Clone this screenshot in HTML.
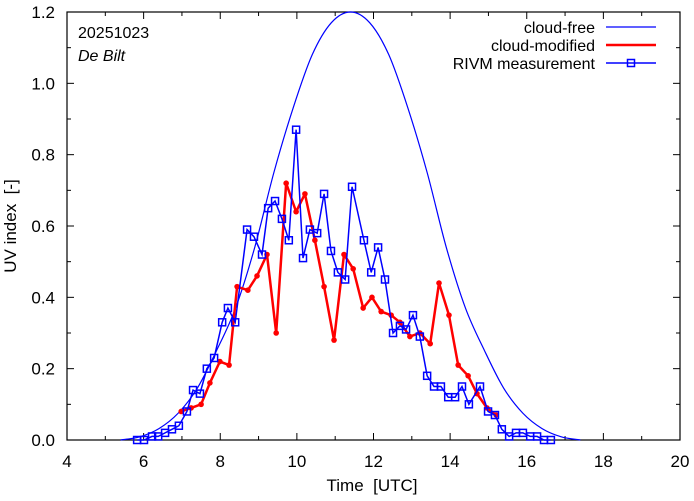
<!DOCTYPE html>
<html><head><meta charset="utf-8"><style>
body{margin:0;background:#fff}
svg{display:block;font-family:"Liberation Sans",sans-serif}
</style></head><body>
<svg id="chart" width="694" height="501" viewBox="0 0 694 501" xmlns="http://www.w3.org/2000/svg">
<rect width="694" height="501" fill="#fff"/>
<g id="axes"></g>
<g id="series"></g>
<text x="78" y="38" font-size="16">20251023</text>
<text x="78" y="61" font-size="16" font-style="italic">De Bilt</text>
<text x="372" y="491" font-size="17" text-anchor="middle" xml:space="preserve">Time  [UTC]</text>
<text transform="translate(16,226) rotate(-90)" font-size="17" text-anchor="middle" xml:space="preserve">UV index  [-]</text>
<g>
<text x="595" y="33" font-size="16" text-anchor="end">cloud-free</text>
<line x1="606" y1="27" x2="656" y2="27" stroke="#0000ff" stroke-width="1.2"/>
<text x="595" y="51" font-size="16" text-anchor="end">cloud-modified</text>
<line x1="606" y1="45" x2="656" y2="45" stroke="#ff0000" stroke-width="2.5"/>
<text x="595" y="69" font-size="16" text-anchor="end">RIVM measurement</text>
<line x1="606" y1="63" x2="656" y2="63" stroke="#0000ff" stroke-width="1.5"/>
<rect x="627.5" y="59.5" width="7" height="7" fill="none" stroke="#0000ff" stroke-width="1.5"/>
</g>
</svg>
<script>
const clearTimes=[5.4,5.9,6.4,6.9,7.4,7.9,8.4,8.9,9.4,9.9,10.4,10.9,11.4,11.9,12.4,12.9,13.4,13.9,14.4,14.9,15.4,15.9,16.4,16.9,17.4];
const clearValues=[0,0.009,0.032,0.075,0.145,0.25,0.37,0.54,0.75,0.93,1.08,1.17,1.2,1.17,1.08,0.93,0.75,0.54,0.37,0.25,0.145,0.075,0.032,0.009,0];
const cloudTimes=[6.98,7.24,7.50,7.73,7.99,8.23,8.44,8.72,8.96,9.22,9.46,9.72,9.98,10.21,10.47,10.71,10.97,11.23,11.47,11.73,11.96,12.20,12.46,12.69,12.95,13.21,13.48,13.71,13.97,14.21,14.47,14.70,14.96,15.20];
const cloudValues=[0.08,0.09,0.10,0.16,0.22,0.21,0.43,0.42,0.46,0.52,0.30,0.72,0.64,0.69,0.56,0.43,0.28,0.52,0.48,0.37,0.40,0.36,0.35,0.33,0.29,0.30,0.27,0.44,0.35,0.21,0.18,0.13,0.09,0.07];
const measTimes=[5.83,6.01,6.22,6.38,6.56,6.74,6.92,7.13,7.29,7.47,7.65,7.84,8.05,8.20,8.39,8.70,8.88,9.09,9.25,9.43,9.61,9.79,9.98,10.16,10.34,10.53,10.71,10.89,11.07,11.26,11.44,11.75,11.94,12.12,12.30,12.51,12.69,12.85,13.03,13.21,13.40,13.58,13.76,13.95,14.13,14.31,14.49,14.78,14.99,15.17,15.35,15.54,15.72,15.90,16.09,16.27,16.45,16.63];
const measValues=[0,0,0.01,0.01,0.02,0.03,0.04,0.08,0.14,0.13,0.20,0.23,0.33,0.37,0.33,0.59,0.57,0.52,0.65,0.67,0.62,0.56,0.87,0.51,0.59,0.58,0.69,0.53,0.47,0.45,0.71,0.56,0.47,0.54,0.45,0.30,0.32,0.31,0.35,0.29,0.18,0.15,0.15,0.12,0.12,0.15,0.10,0.15,0.08,0.07,0.03,0.01,0.02,0.02,0.01,0.01,0,0];
const xTickLabels=[4,6,8,10,12,14,16,18,20];
const yTickLabels=["0.0","0.2","0.4","0.6","0.8","1.0","1.2"];

const L=67,R=680,T=12,B=440;
const X=t=>L+(t-4)/16*(R-L);
const Y=v=>B-v/1.2*(B-T);
const NS="http://www.w3.org/2000/svg";
const axes=document.getElementById('axes'),series=document.getElementById('series');
function mk(tag,attrs,parent){const e=document.createElementNS(NS,tag);for(const k in attrs)e.setAttribute(k,attrs[k]);parent.appendChild(e);return e;}

for(let h=4;h<=20;h++){
  const x=X(h),len=(h%2===0)?7:4;
  const t1=mk('line',{x1:x,y1:B,x2:x,y2:B-len,stroke:'#000'},axes);
  
  
  const t2=mk('line',{x1:x,y1:T,x2:x,y2:T+len,stroke:'#000'},axes);
  
  
}
xTickLabels.forEach(v=>{
  const tx=mk('text',{x:X(v),y:B+27,'font-size':17,'text-anchor':'middle'},axes);
  tx.textContent=v;
  
  
});
for(let i=0;i<=12;i++){
  const y=Y(i/10),len=(i%2===0)?7:4;
  const t1=mk('line',{x1:L,y1:y,x2:L+len,y2:y,stroke:'#000'},axes);
  
  
  const t2=mk('line',{x1:R,y1:y,x2:R-len,y2:y,stroke:'#000'},axes);
  
  
}
yTickLabels.forEach(s=>{
  const tx=mk('text',{x:L-12,y:Y(parseFloat(s))+6,'font-size':17,'text-anchor':'end'},axes);
  tx.textContent=s;
  
  
});
const frame=mk('rect',{x:L,y:T,width:R-L,height:B-T,fill:'none',stroke:'#000','stroke-width':1.2},axes);



const pts=clearTimes.map((t,i)=>[X(t),Y(clearValues[i])]);
let d='M'+pts[0][0]+','+pts[0][1];
for(let i=0;i<pts.length-1;i++){
  const p0=pts[Math.max(0,i-1)],p1=pts[i],p2=pts[i+1],p3=pts[Math.min(pts.length-1,i+2)];
  const c1=[p1[0]+(p2[0]-p0[0])/6,p1[1]+(p2[1]-p0[1])/6],c2=[p2[0]-(p3[0]-p1[0])/6,p2[1]-(p3[1]-p1[1])/6];
  d+=' C'+c1+' '+c2+' '+p2;
}
const cf=mk('path',{d:d,fill:'none',stroke:'#0000ff','stroke-width':1.2},series);



const cm=mk('polyline',{points:cloudTimes.map((t,i)=>X(t)+','+Y(cloudValues[i])).join(' '),fill:'none',stroke:'#ff0000','stroke-width':2.5,'stroke-linejoin':'round'},series);


cloudTimes.forEach((t,i)=>{
  const c=mk('circle',{cx:X(t),cy:Y(cloudValues[i]),r:2.8,fill:'#ff0000'},series);
  
  
});

const ml=mk('polyline',{points:measTimes.map((t,i)=>X(t)+','+Y(measValues[i])).join(' '),fill:'none',stroke:'#0000ff','stroke-width':1.5},series);


measTimes.forEach((t,i)=>{
  const r=mk('rect',{x:X(t)-3.5,y:Y(measValues[i])-3.5,width:7,height:7,fill:'none',stroke:'#0000ff','stroke-width':1.5},series);
  
  
});
</script>
</body></html>
